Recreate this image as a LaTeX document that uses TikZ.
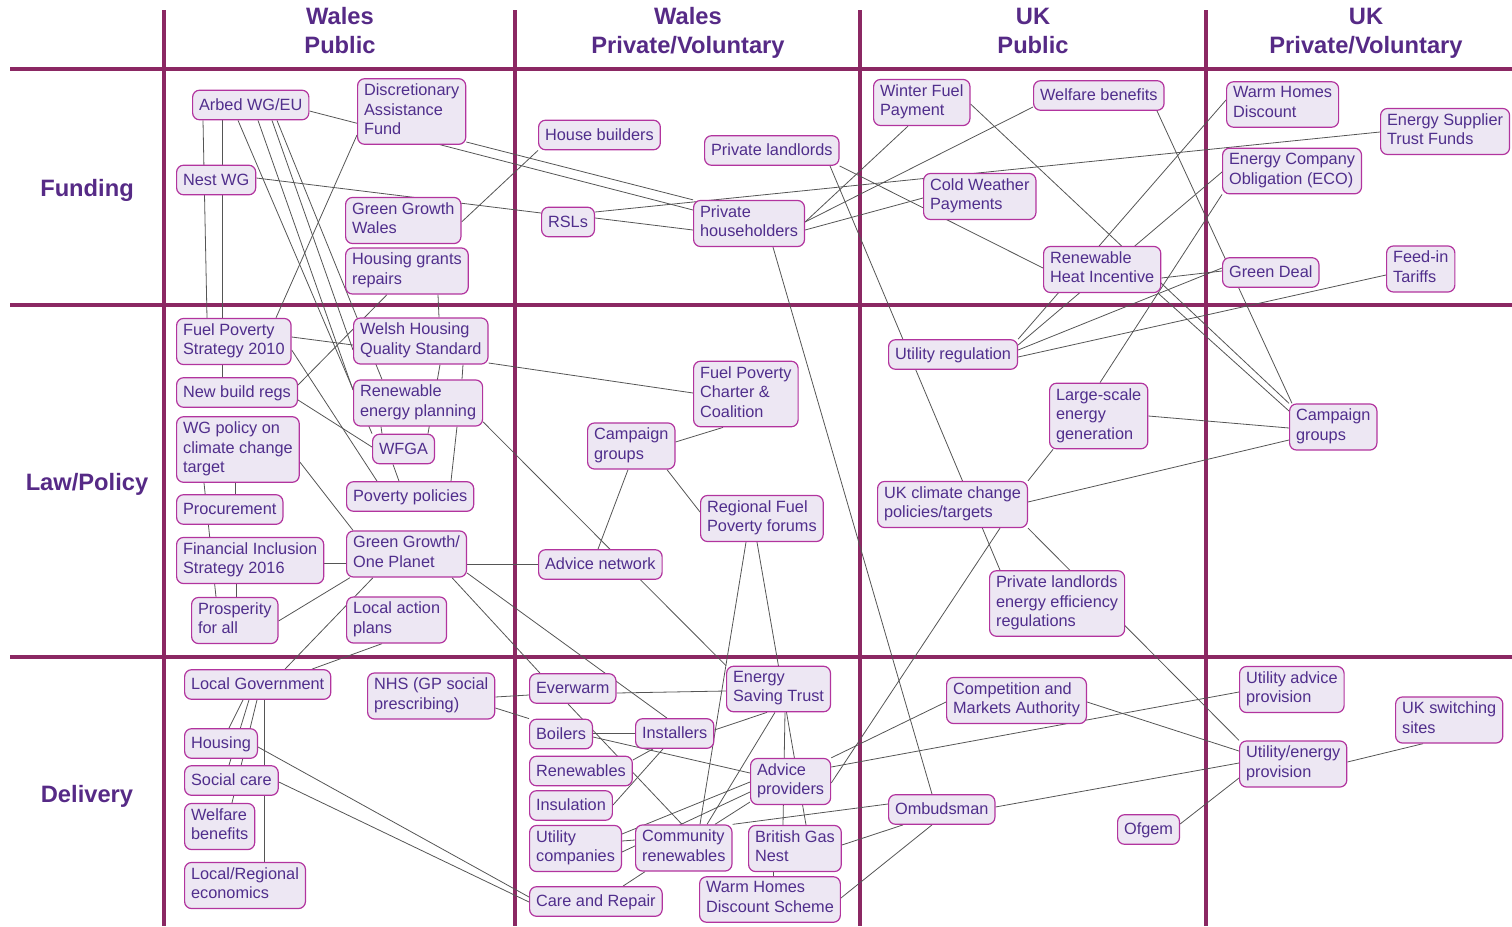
\documentclass[tikz,border=0pt]{standalone}
\usepackage{fontspec}
\setmainfont{Liberation Sans}
\usetikzlibrary{backgrounds}
\definecolor{lanec}{RGB}{139,40,99}
\definecolor{boxline}{RGB}{178,52,158}
\definecolor{boxfill}{RGB}{237,231,243}
\definecolor{ink}{RGB}{80,46,140}
\definecolor{headc}{RGB}{86,42,134}
\definecolor{wirec}{RGB}{85,85,85}
\newcommand{\boxtopstrut}{\rule{0pt}{14.8pt}}
\newcommand{\boxbotstrut}{\rule[-4.8pt]{0pt}{4.8pt}}
\tikzset{
  box/.style={anchor=west, draw=boxline, fill=boxfill, line width=1.2pt, rounded corners=7pt,
    text=ink, align=left, inner xsep=6.5pt, inner ysep=5pt,
    font=\fontsize{16.3}{19.5}\selectfont,
    execute at begin node=\boxtopstrut, execute at end node=\boxbotstrut},
  head/.style={text=headc, font=\fontsize{23.7}{29}\selectfont\bfseries, align=center, inner sep=0pt},
  lane/.style={draw=lanec, line width=3.5pt},
  wire/.style={draw=wirec, line width=0.8pt}
}
\begin{document}
\begin{tikzpicture}[x=1pt,y=-1pt]
\useasboundingbox (0,0) rectangle (1512,926);

\node[head] (hwpub) at (340,30.5) {Wales\\Public};
\node[head] (hwpv) at (688,33) {Wales\\Private/Voluntary};
\node[head] (hukpub) at (1033,30.5) {UK\\Public};
\node[head] (hukpv) at (1366,33) {UK\\Private/Voluntary};
\node[head] (hfund) at (87,190) {Funding};
\node[head] (hlaw) at (87,484) {Law/Policy};
\node[head] (hdel) at (87,796) {Delivery};

% funding
\node[box] (arbed) at (192,105) {Arbed WG/EU};
\node[box] (daf) at (357,111.5) {Discretionary\\Assistance\\Fund};
\node[box] (nest) at (176,180) {Nest WG};
\node[box] (ggw) at (345,220.5) {Green Growth\\Wales};
\node[box] (hgr) at (345,271) {Housing grants\\repairs};
\node[box] (hb) at (538,135) {House builders};
\node[box] (plord) at (704,150.5) {Private landlords};
\node[box] (rsl) at (541,222) {RSLs};
\node[box] (phh) at (693,223.5) {Private\\householders};
\node[box] (wfp) at (873,102.5) {Winter Fuel\\Payment};
\node[box] (wben) at (1033,95.5) {Welfare benefits};
\node[box] (cwp) at (923,196.5) {Cold Weather\\Payments};
\node[box] (rhi) at (1043,269.5) {Renewable\\Heat Incentive};
\node[box] (whd) at (1226,104.5) {Warm Homes\\Discount};
\node[box] (estf) at (1380,131.5) {Energy Supplier\\Trust Funds};
\node[box] (eco) at (1222,171) {Energy Company\\Obligation (ECO)};
\node[box] (gdeal) at (1222,272.5) {Green Deal};
\node[box] (fit) at (1386,269) {Feed-in\\Tariffs};

% law/policy
\node[box] (fps) at (176,341.5) {Fuel Poverty\\Strategy 2010};
\node[box] (whqs) at (353,341) {Welsh Housing\\Quality Standard};
\node[box] (nbr) at (176,392.5) {New build regs};
\node[box] (rep) at (353,403) {Renewable\\energy planning};
\node[box] (wfga) at (372,449) {WFGA};
\node[box] (wgp) at (176,449.5) {WG policy on\\climate change\\target};
\node[box] (pov) at (346,496.5) {Poverty policies};
\node[box] (proc) at (176,509.5) {Procurement};
\node[box] (ggop) at (346,554) {Green Growth/\\One Planet};
\node[box] (fis) at (176,560.5) {Financial Inclusion\\Strategy 2016};
\node[box] (pfa) at (191,620.5) {Prosperity\\for all};
\node[box] (lap) at (346,620) {Local action\\plans};
\node[box] (fpc) at (693,394) {Fuel Poverty\\Charter \&\\Coalition};
\node[box] (cgw) at (587,446) {Campaign\\groups};
\node[box] (rfpf) at (700,518.5) {Regional Fuel\\Poverty forums};
\node[box] (adnet) at (538,564.5) {Advice network};
\node[box] (ureg) at (888,354.5) {Utility regulation};
\node[box] (lseg) at (1049,416) {Large-scale\\energy\\generation};
\node[box] (ukcc) at (877,504.5) {UK climate change\\policies/targets};
\node[box] (pleer) at (989,603.5) {Private landlords\\energy efficiency\\regulations};
\node[box] (cgu) at (1289,427) {Campaign\\groups};

% delivery
\node[box] (lgov) at (184,684.5) {Local Government};
\node[box] (nhs) at (367,696) {NHS (GP social\\prescribing)};
\node[box] (hous) at (184,743.5) {Housing};
\node[box] (socc) at (184,780.5) {Social care};
\node[box] (wbd) at (184,826.5) {Welfare\\benefits};
\node[box] (lre) at (184,885.5) {Local/Regional\\economics};
\node[box] (ewarm) at (529,688.5) {Everwarm};
\node[box] (est) at (726,689) {Energy\\Saving Trust};
\node[box] (boil) at (529,734) {Boilers};
\node[box] (inst) at (635,733.5) {Installers};
\node[box] (renw) at (529,771) {Renewables};
\node[box] (advp) at (750,781.5) {Advice\\providers};
\node[box] (insu) at (529,805.5) {Insulation};
\node[box] (ucomp) at (529,848.5) {Utility\\companies};
\node[box] (crenw) at (635,848) {Community\\renewables};
\node[box] (bgn) at (748,848.5) {British Gas\\Nest};
\node[box] (carep) at (529,901.5) {Care and Repair};
\node[box] (whds) at (699,899.5) {Warm Homes\\Discount Scheme};
\node[box] (cma) at (946,700.5) {Competition and\\Markets Authority};
\node[box] (omb) at (888,809.5) {Ombudsman};
\node[box] (ofgem) at (1117,829.5) {Ofgem};
\node[box] (uap) at (1239,689.5) {Utility advice\\provision};
\node[box] (uks) at (1395,720) {UK switching\\sites};
\node[box] (uep) at (1239,764) {Utility/energy\\provision};

\begin{scope}[on background layer]
\foreach \x in {164,515,860,1206}
{
    \draw[lane] (\x,10) -- (\x,926);
}
\foreach \y in {69,305,657}
{
    \draw[lane] (10,\y) -- (1512,\y);
}
\draw[wire] (arbed.south -| 203,0) -- (fps.north -| 207,0);
\draw[wire] (arbed.south -| 222,0) -- (nbr.north -| 222,0);
\draw[wire] (arbed.south -| 238,0) -- (wfga.north west);
\draw[wire] (arbed.south -| 258,0) -- (rep.west |- 0,390);
\draw[wire] (arbed.south -| 272,0) -- (whqs.west |- 0,350);
\draw[wire] (arbed.south -| 277,0) -- (rep.north -| 382,0);
\draw[wire] (arbed.east |- 0,111) -- (phh.west |- 0,210);
\draw[wire] (daf.east |- 0,142) -- (phh.north west);
\draw[wire] (daf.west |- 0,135) -- (fps.north -| 276,0);
\draw[wire] (nest.east |- 0,178) -- (rsl.west |- 0,213);
\draw[wire] (ggw.east |- 0,222) -- (hb.south west);
\draw[wire] (hgr.south -| 438,0) -- (whqs.north -| 439,0);
\draw[wire] (nbr.east |- 0,385) -- (hgr.south -| 387,0);
\draw[wire] (nbr.east |- 0,400) -- (wfga.west |- 0,447);
\draw[wire] (fps.east |- 0,337) -- (whqs.west |- 0,345);
\draw[wire] (fps.east |- 0,350) -- (pov.north -| 377,0);
\draw[wire] (whqs.south -| 463,0) -- (rep.north -| 462,0);
\draw[wire] (whqs.south -| 440,0) -- (wfga.north -| 428,0);
\draw[wire] (rep.south -| 381,0) -- (wfga.north -| 382,0);
\draw[wire] (rep.south -| 457,0) -- (pov.north -| 451,0);
\draw[wire] (wfga.south -| 393,0) -- (pov.north -| 399,0);
\draw[wire] (whqs.east |- 0,363) -- (fpc.west |- 0,393);
\draw[wire] (rep.east |- 0,422) -- (est.north west);
\draw[wire] (wgp.east |- 0,462) -- (ggop.north -| 353,0);
\draw[wire] (wgp.south -| 204,0) -- (pfa.north -| 216,0);
\draw[wire] (wgp.south -| 235,0) -- (proc.north -| 235,0);
\draw[wire] (fis.south -| 236,0) -- (pfa.north -| 236,0);
\draw[wire] (fis.east |- 0,563) -- (ggop.west |- 0,563);
\draw[wire] (pfa.east |- 0,621) -- (ggop.south -| 350,0);
\draw[wire] (ggop.south -| 373,0) -- (lgov.north -| 285,0);
\draw[wire] (lap.south -| 382,0) -- (lgov.north -| 312,0);
\draw[wire] (ggop.east |- 0,564) -- (adnet.west |- 0,564);
\draw[wire] (ggop.east |- 0,573) -- (inst.north -| 667,0);
\draw[wire] (ggop.south -| 452,0) -- (ewarm.north -| 540,0);
\draw[wire] (rsl.east |- 0,212) -- (estf.west |- 0,132);
\draw[wire] (rsl.east |- 0,218) -- (phh.west |- 0,230);
\draw[wire] (phh.east |- 0,222) -- (wfp.south -| 908,0);
\draw[wire] (phh.east |- 0,222) -- (wben.west |- 0,107);
\draw[wire] (phh.east |- 0,230) -- (cwp.west |- 0,198);
\draw[wire] (plord.south east) -- (rhi.west |- 0,268);
\draw[wire] (plord.south -| 830,0) -- (pleer.north -| 1000,0);
\draw[wire] (phh.south -| 773,0) -- (omb.north -| 932,0);
\draw[wire] (wfp.east |- 0,104) -- (cgu.north west);
\draw[wire] (wben.south -| 1157,0) -- (cgu.north -| 1292,0);
\draw[wire] (whd.west |- 0,100) -- (ureg.north east);
\draw[wire] (eco.west |- 0,172) -- (ureg.east |- 0,345);
\draw[wire] (eco.south west) -- (lseg.north -| 1100,0);
\draw[wire] (gdeal.west |- 0,268) -- (ureg.east |- 0,350);
\draw[wire] (fit.west |- 0,275) -- (ureg.east |- 0,357);
\draw[wire] (rhi.east |- 0,278) -- (gdeal.west |- 0,271);
\draw[wire] (rhi.south -| 1158,0) -- (cgu.west |- 0,411);
\draw[wire] (lseg.south -| 1053,0) -- (ukcc.north east);
\draw[wire] (lseg.east |- 0,416) -- (cgu.west |- 0,428);
\draw[wire] (ukcc.east |- 0,502) -- (cgu.west |- 0,440);
\draw[wire] (ukcc.south east) -- (uep.north west);
\draw[wire] (ukcc.south -| 1000,0) -- (advp.east |- 0,783);
\draw[wire] (advp.north east) -- (cma.west |- 0,702);
\draw[wire] (advp.east |- 0,767) -- (uap.west |- 0,692);
\draw[wire] (cma.east |- 0,702) -- (uep.west |- 0,751);
\draw[wire] (crenw.north east) -- (omb.west |- 0,804);
\draw[wire] (bgn.east |- 0,845) -- (omb.south -| 903,0);
\draw[wire] (whds.east |- 0,898) -- (omb.south -| 932,0);
\draw[wire] (omb.east |- 0,807) -- (uep.west |- 0,763);
\draw[wire] (ofgem.east |- 0,824) -- (uep.west |- 0,778);
\draw[wire] (uep.east |- 0,762) -- (uks.south -| 1423,0);
\draw[wire] (cgw.east |- 0,442) -- (fpc.south -| 723,0);
\draw[wire] (cgw.south -| 628,0) -- (adnet.north -| 598,0);
\draw[wire] (cgw.south -| 667,0) -- (rfpf.west |- 0,512);
\draw[wire] (rfpf.south -| 746,0) -- (crenw.north -| 700,0);
\draw[wire] (rfpf.south -| 757,0) -- (bgn.north -| 806,0);
\draw[wire] (est.south -| 785,0) -- (bgn.north -| 783,0);
\draw[wire] (est.south -| 775,0) -- (crenw.north -| 707,0);
\draw[wire] (ewarm.east |- 0,693) -- (est.west |- 0,691);
\draw[wire] (ewarm.south -| 568,0) -- (crenw.north -| 682,0);
\draw[wire] (boil.east |- 0,733) -- (inst.west |- 0,733);
\draw[wire] (boil.east |- 0,737) -- (advp.west |- 0,773);
\draw[wire] (inst.east |- 0,730) -- (est.south -| 767,0);
\draw[wire] (inst.south -| 653,0) -- (renw.east |- 0,760);
\draw[wire] (inst.south -| 663,0) -- (insu.east |- 0,805);
\draw[wire] (ucomp.east |- 0,834) -- (advp.west |- 0,782);
\draw[wire] (ucomp.east |- 0,841) -- (crenw.west |- 0,840);
\draw[wire] (ucomp.east |- 0,852) -- (advp.west |- 0,792);
\draw[wire] (crenw.north -| 715,0) -- (advp.west |- 0,802);
\draw[wire] (crenw.south -| 645,0) -- (carep.north -| 623,0);
\draw[wire] (bgn.south -| 773,0) -- (whds.north -| 773,0);
\draw[wire] (hous.east |- 0,747) -- (carep.west |- 0,897);
\draw[wire] (socc.east |- 0,782) -- (carep.west |- 0,902);
\draw[wire] (lgov.south -| 243,0) -- (hous.north -| 229,0);
\draw[wire] (lgov.south -| 249,0) -- (socc.north -| 229,0);
\draw[wire] (lgov.south -| 257,0) -- (wbd.north -| 232,0);
\draw[wire] (lgov.south -| 264,0) -- (lre.north -| 264,0);
\draw[wire] (nhs.east |- 0,697) -- (ewarm.west |- 0,695);
\draw[wire] (nhs.east |- 0,708) -- (boil.north west);
\end{scope}
\end{tikzpicture}
\end{document}
